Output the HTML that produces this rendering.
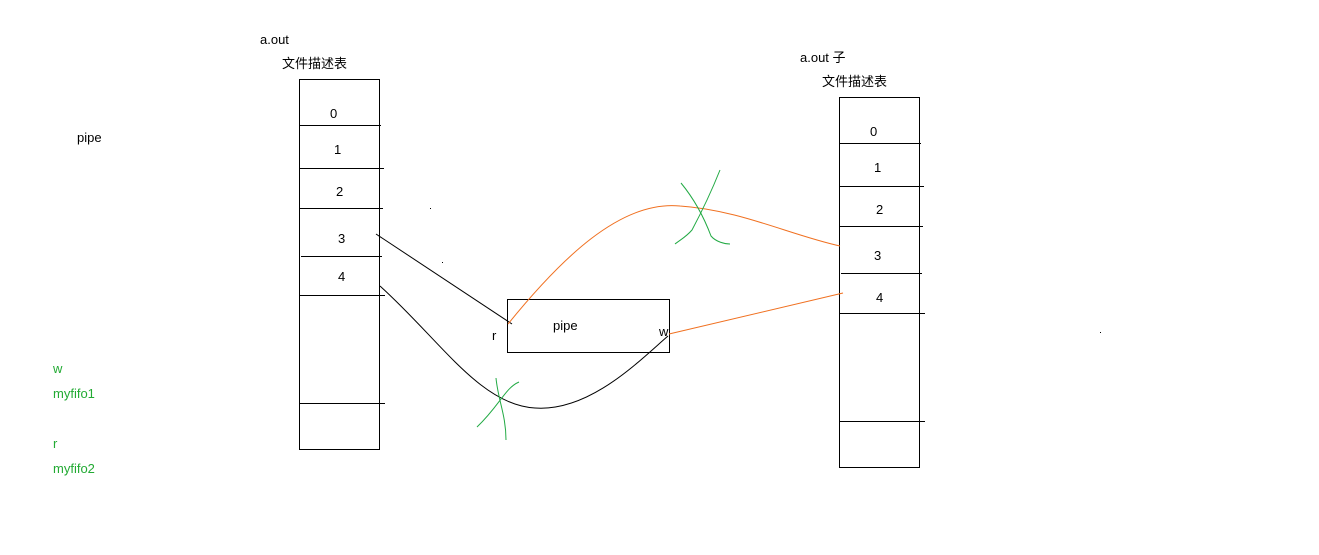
<!DOCTYPE html>
<html><head><meta charset="utf-8"><style>
html,body{margin:0;padding:0;background:#fff;}
svg{display:block;font-family:"Liberation Sans","Noto Sans CJK SC",sans-serif;font-size:13px;}
</style></head><body>
<svg width="1319" height="555" viewBox="0 0 1319 555">
<rect width="1319" height="555" fill="#fff"/>
<g fill="#000">
<text x="260" y="44">a.out</text>
<text x="282" y="68">文件描述表</text>
<text x="800" y="62">a.out 子</text>
<text x="822" y="86">文件描述表</text>
<text x="77" y="142">pipe</text>
</g>
<g fill="#22aa33">
<text x="53" y="373">w</text>
<text x="53" y="398">myfifo1</text>
<text x="53" y="448">r</text>
<text x="53" y="473">myfifo2</text>
</g>
<g stroke="#000" stroke-width="1" fill="none">
<rect x="299.5" y="79.5" width="80" height="370"/>
<line x1="299" y1="125.5" x2="381" y2="125.5"/>
<line x1="299" y1="168.5" x2="384" y2="168.5"/>
<line x1="299" y1="208.5" x2="383" y2="208.5"/>
<line x1="301" y1="256.5" x2="382" y2="256.5"/>
<line x1="299" y1="295.5" x2="385" y2="295.5"/>
<line x1="299" y1="403.5" x2="385" y2="403.5"/>
</g>
<g fill="#000">
<text x="330" y="118">0</text><text x="334" y="154">1</text><text x="336" y="196">2</text><text x="338" y="243">3</text><text x="338" y="281">4</text>
</g>
<g stroke="#000" stroke-width="1" fill="none">
<rect x="839.5" y="97.5" width="80" height="370"/>
<line x1="839" y1="143.5" x2="921" y2="143.5"/>
<line x1="839" y1="186.5" x2="924" y2="186.5"/>
<line x1="839" y1="226.5" x2="923" y2="226.5"/>
<line x1="841" y1="273.5" x2="922" y2="273.5"/>
<line x1="839" y1="313.5" x2="925" y2="313.5"/>
<line x1="839" y1="421.5" x2="925" y2="421.5"/>
</g>
<g fill="#000">
<text x="870" y="136">0</text><text x="874" y="172">1</text><text x="876" y="214">2</text><text x="874" y="260">3</text><text x="876" y="302">4</text>
</g>
<rect x="507.5" y="299.5" width="162" height="53" fill="none" stroke="#000"/>
<text x="553" y="330">pipe</text>
<text x="492" y="340">r</text>
<text x="659" y="336">w</text>
<g fill="none" stroke="#000" stroke-width="1">
<line x1="376" y1="234" x2="512" y2="324"/>
<path d="M380 286 C440 340 480 405 535 408 C590 412 640 360 668 336"/>
</g>
<g fill="none" stroke="#f07020" stroke-width="1">
<path d="M508 324 C560 260 620 200 680 206 C740 210 790 235 840 246"/>
<line x1="669" y1="334" x2="843" y2="293"/>
</g>
<g fill="none" stroke="#22aa44" stroke-width="1">
<path d="M496 378 C498 400 506 415 506 440"/>
<path d="M519 382 C505 388 500 405 477 427"/>
</g>
<g fill="none" stroke="#22aa44" stroke-width="1">
<path d="M681 183 C695 200 705 220 711 236 C716 242 725 244 730 244"/>
<path d="M720 170 C710 195 700 215 692 230 C686 237 680 240 675 244"/>
</g>
<g fill="#000">
<rect x="430" y="208" width="1" height="1"/><rect x="442" y="262" width="1" height="1"/><rect x="1100" y="332" width="1" height="1"/>
</g>
</svg>
</body></html>
